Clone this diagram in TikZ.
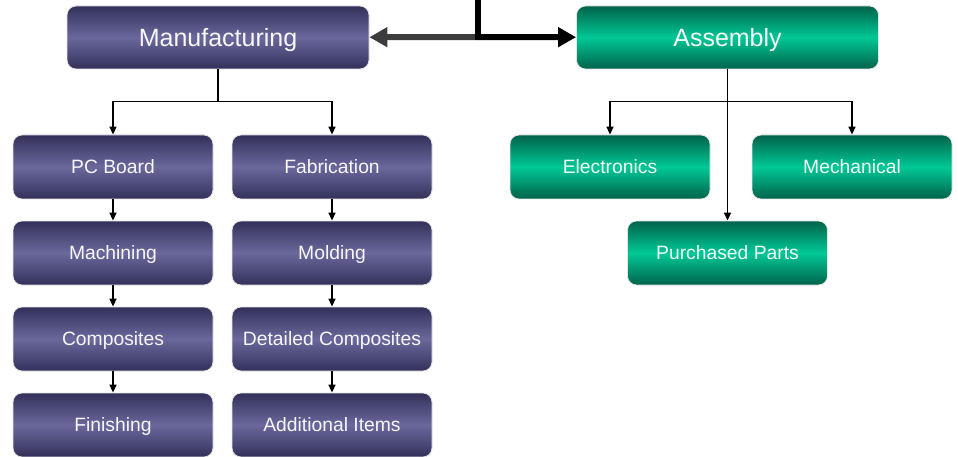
\documentclass[tikz,border=0pt]{standalone}
\usepackage{fontspec}
\setmainfont{Liberation Sans}
\usetikzlibrary{arrows.meta}

\definecolor{purpdark}{HTML}{33315A}
\definecolor{purplite}{HTML}{6A689C}
\definecolor{grndark}{HTML}{00634A}
\definecolor{grnlite}{HTML}{00C896}
\definecolor{linkgray}{HTML}{3C3C3C}

\tikzset{
  mfgbox/.style={rounded corners=9pt,draw=white!80!gray,line width=0.8pt,
    top color=purpdark,bottom color=purpdark,middle color=purplite,
    text=white!94!gray,minimum width=200pt,minimum height=64pt,
    text height=13.8pt,text depth=0pt,font=\fontsize{19.3}{21}\selectfont},
  asmbox/.style={mfgbox,top color=grndark,bottom color=grndark,middle color=grnlite},
  headbox/.style={minimum width=302pt,minimum height=63pt,text height=17.9pt,
    font=\fontsize{25}{28}\selectfont},
  link/.style={->,line width=1.5pt},
  biglink/.style={->,line width=6pt,>={Triangle[length=18pt,width=19pt]}}
}

\begin{document}
\begin{tikzpicture}[x=1pt,y=-1pt,>={Triangle[length=8pt,width=7pt]}]
      \useasboundingbox (0,0) rectangle (958,457);

      % top row
      \node[mfgbox,headbox] (man) at (218,37.5){Manufacturing};
      \node[asmbox,headbox] (asm) at (727.5,37.5){Assembly};
      \coordinate (top) at (478,0);
      \coordinate (junc) at (478,37);

      % manufacturing, left column
      \node[mfgbox] (pcb) at (113,167){PC Board};
      \node[mfgbox] (mach) at (113,253){Machining};
      \node[mfgbox] (comp) at (113,339){Composites};
      \node[mfgbox] (fin) at (113,425){Finishing};

      % manufacturing, right column
      \node[mfgbox] (fab) at (332,167){Fabrication};
      \node[mfgbox] (mold) at (332,253){Molding};
      \node[mfgbox] (dcomp) at (332,339){Detailed Composites};
      \node[mfgbox] (addit) at (332,425){Additional Items};

      % assembly
      \node[asmbox] (elec) at (610,167){Electronics};
      \node[asmbox] (mech) at (852,167){Mechanical};
      \node[asmbox] (pp) at (727.5,253){Purchased Parts};

      \draw[line width=6pt] (top) -- (junc);
      \draw[biglink,linkgray] (junc) -- (man);
      \draw[biglink] ([xshift=-3pt]junc) -- (asm);

      \draw[link] (man.south) -- ++(0,32) -| (pcb.north);
      \draw[link] (man.south) -- ++(0,32) -| (fab.north);
      \draw[link] (pcb) -- (mach);
      \draw[link] (mach) -- (comp);
      \draw[link] (comp) -- (fin);
      \draw[link] (fab) -- (mold);
      \draw[link] (mold) -- (dcomp);
      \draw[link] (dcomp) -- (addit);

      \draw[link] (asm.south) -- ++(0,32) -| (elec.north);
      \draw[link] (asm.south) -- ++(0,32) -| (mech.north);
      \draw[link] (asm) -- (pp);
\end{tikzpicture}
\end{document}
